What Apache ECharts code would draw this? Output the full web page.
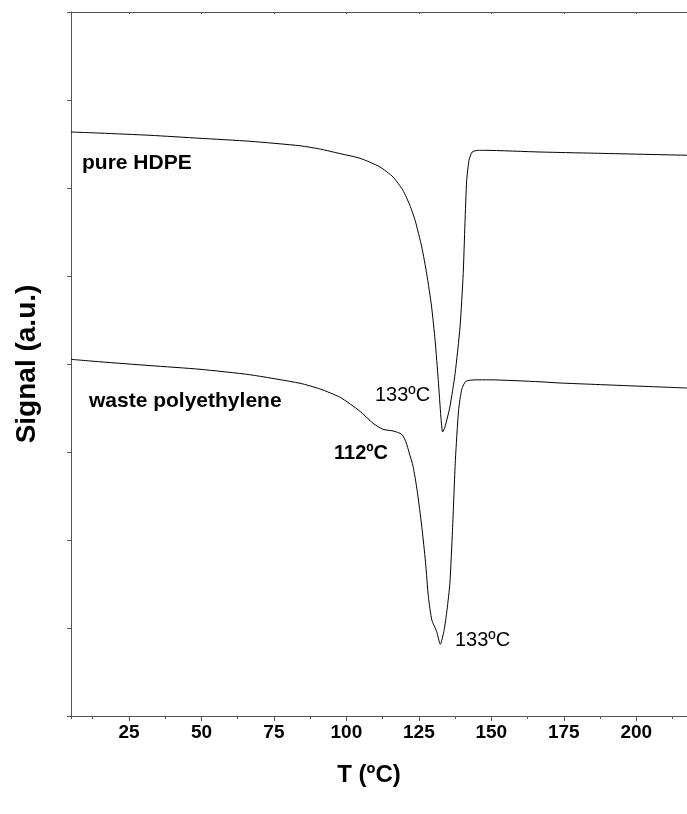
<!DOCTYPE html>
<html>
<head>
<meta charset="utf-8">
<title>DSC curves</title>
<style>
  html, body { margin: 0; padding: 0; background: #fff; overflow: hidden; }
</style>
</head>
<body>
<div id="chart" style="width: 687px; height: 814px;"></div>
<script src="https://cdn.jsdelivr.net/npm/echarts@6/dist/echarts.min.js"></script>
<script>
// temperature (ºC) and signal (a.u.)
var hdpeT = [5.0, 15.0, 32.2, 49.5, 66.7, 84.0, 91.0, 97.8, 104.7, 111.6, 116.1, 119.5, 121.9, 123.7, 126.0, 127.7, 129.4, 130.6, 131.7, 132.6, 133.2, 134.0, 135.7, 137.5, 139.2, 140.3, 140.9, 141.5, 142.3, 143.4, 145.5, 147.8, 166.8, 187.5, 217.5];
var hdpeSignal = [6.636, 6.624, 6.599, 6.565, 6.531, 6.480, 6.442, 6.391, 6.338, 6.239, 6.125, 5.974, 5.803, 5.633, 5.330, 5.027, 4.648, 4.269, 3.815, 3.398, 3.227, 3.284, 3.511, 3.891, 4.420, 5.027, 5.595, 6.088, 6.315, 6.409, 6.428, 6.428, 6.409, 6.394, 6.372];

var wasteT = [5.0, 15.0, 32.2, 49.5, 66.7, 84.0, 91.0, 97.8, 104.7, 109.2, 112.6, 116.1, 119.1, 120.6, 121.6, 123.0, 124.4, 126.0, 127.3, 128.3, 129.5, 131.1, 132.4, 133.7, 134.7, 135.7, 136.6, 137.6, 138.7, 139.8, 141.2, 144.4, 149.5, 166.8, 173.7, 217.5];
var wasteSignal = [4.053, 4.025, 3.982, 3.940, 3.878, 3.781, 3.715, 3.622, 3.463, 3.326, 3.258, 3.239, 3.201, 3.110, 2.997, 2.838, 2.565, 2.156, 1.747, 1.349, 1.088, 0.963, 0.815, 0.974, 1.201, 1.508, 2.110, 2.906, 3.474, 3.713, 3.803, 3.820, 3.820, 3.798, 3.784, 3.727];

var xMin = 5, xMax = 217.5, xStep = 25;
var yMin = 0, yMax = 8, yStep = 1;

var sans = "'Liberation Sans', Arial, sans-serif";
var axisColor = '#555';

function pairs(xs, ys) {
  return xs.map(function (x, i) { return [x, ys[i]]; });
}

var chart = echarts.init(document.getElementById('chart'));

var option = {
  animation: false,
  backgroundColor: '#fff',
  grid: { left: 71, right: 0, top: 12, bottom: 98 },
  xAxis: [
    {
      type: 'value',
      position: 'bottom',
      min: xMin, max: xMax,
      minInterval: xStep, maxInterval: xStep,
      name: 'T (ºC)',
      nameLocation: 'middle',
      nameGap: 47,
      nameTextStyle: { fontFamily: sans, fontWeight: 'bold', fontSize: 24, color: '#000', padding: [0, 20, 0, 0] },
      axisLine: { show: true, onZero: false, lineStyle: { color: axisColor, width: 1 } },
      axisTick: { show: true, inside: false, length: 5, lineStyle: { color: axisColor } },
      axisLabel: { show: true, margin: 7, showMinLabel: false, showMaxLabel: false, fontFamily: sans, fontWeight: 'bold', fontSize: 19, color: '#000' },
      splitLine: { show: false }
    },
    {
      // minor ticks every 12.5
      type: 'value',
      position: 'bottom',
      min: xMin, max: xMax,
      minInterval: xStep / 2, maxInterval: xStep / 2,
      axisLine: { show: false },
      axisTick: { show: true, inside: false, length: 3, lineStyle: { color: axisColor } },
      axisLabel: { show: false },
      splitLine: { show: false }
    },
    {
      // top frame
      type: 'value',
      position: 'top',
      min: xMin, max: xMax,
      minInterval: xStep, maxInterval: xStep,
      axisLine: { show: true, onZero: false, lineStyle: { color: axisColor, width: 1 } },
      axisTick: { show: true, inside: true, length: 2, lineStyle: { color: axisColor } },
      axisLabel: { show: false },
      splitLine: { show: false }
    }
  ],
  yAxis: {
    type: 'value',
    min: yMin, max: yMax, interval: yStep,
    name: 'Signal (a.u.)',
    nameLocation: 'middle',
    nameGap: 30,
    nameTextStyle: { fontFamily: sans, fontWeight: 'bold', fontSize: 28, color: '#000' },
    axisLine: { show: true, onZero: false, lineStyle: { color: axisColor, width: 1 } },
    axisTick: { show: true, inside: false, length: 4, lineStyle: { color: axisColor } },
    axisLabel: { show: false },
    splitLine: { show: false }
  },
  series: [
    {
      name: 'pure HDPE',
      type: 'line',
      xAxisIndex: 0,
      data: pairs(hdpeT, hdpeSignal),
      showSymbol: false,
      smooth: 0.2,
      lineStyle: { color: '#000', width: 1 }
    },
    {
      name: 'waste polyethylene',
      type: 'line',
      xAxisIndex: 0,
      data: pairs(wasteT, wasteSignal),
      showSymbol: false,
      smooth: 0.2,
      lineStyle: { color: '#000', width: 1 }
    }
  ],
  graphic: [
    { type: 'text', x: 82, y: 163, style: { text: 'pure HDPE', font: 'bold 21px ' + sans, fill: '#000', align: 'left', verticalAlign: 'middle' } },
    { type: 'text', x: 89, y: 401, style: { text: 'waste polyethylene', font: 'bold 21px ' + sans, fill: '#000', align: 'left', verticalAlign: 'middle' } },
    { type: 'text', x: 375, y: 395, style: { text: '133ºC', font: '20px ' + sans, fill: '#000', align: 'left', verticalAlign: 'middle' } },
    { type: 'text', x: 334, y: 453, style: { text: '112ºC', font: 'bold 20px ' + sans, fill: '#000', align: 'left', verticalAlign: 'middle' } },
    { type: 'text', x: 455, y: 640, style: { text: '133ºC', font: '20px ' + sans, fill: '#000', align: 'left', verticalAlign: 'middle' } }
  ]
};

chart.setOption(option);
</script>
</body>
</html>
